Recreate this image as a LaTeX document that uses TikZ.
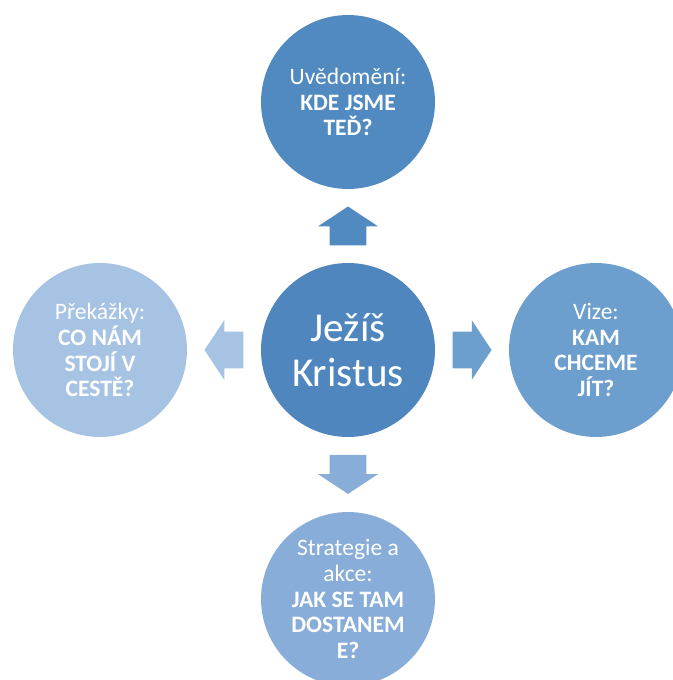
\documentclass[tikz,border=0pt]{standalone}
\usepackage{fontspec}
\setmainfont{Carlito}
\usetikzlibrary{shapes.arrows,calc}
\definecolor{awarenessblue}{RGB}{80,138,193}
\definecolor{centreblue}{RGB}{79,134,190}
\definecolor{visionblue}{RGB}{108,158,206}
\definecolor{strategyblue}{RGB}{136,173,217}
\definecolor{obstacleblue}{RGB}{166,195,228}
\begin{document}
\begin{tikzpicture}[x=0.02cm,y=0.02cm]
            \tikzstyle{every node}+=[inner sep=0pt]
            \tikzstyle{disc}=[circle, minimum size=3.48cm, text=white, align=center, font=\fontsize{13.4}{14.7}\selectfont]
            \tikzstyle{blockarrow}=[single arrow, anchor=tail, inner xsep=0pt, inner ysep=0.36cm, minimum height=0.78cm, single arrow head extend=0.23cm, single arrow tip angle=113]
            \useasboundingbox (0,0) rectangle (673,-680);
            \clip (0,0) rectangle (673,-680);
            \node [disc, fill=centreblue, font=\fontsize{23.4}{25.5}\selectfont] (jesus) at (348,-350) {Ježíš\\Kristus};
            \node [disc, fill=awarenessblue] (awareness) at (348,-102) {Uvědomění:\\\textbf{KDE JSME}\\\textbf{TEĎ?}};
            \node [disc, fill=visionblue] (vision) at (596,-350) {Vize:\\\textbf{KAM}\\\textbf{CHCEME}\\\textbf{JÍT?}};
            \node [disc, fill=strategyblue] (strategy) at (348,-599) {Strategie a\\akce:\\\textbf{JAK SE TAM}\\\textbf{DOSTANEM}\\\textbf{E?}};
            \node [disc, fill=obstacleblue] (obstacles) at (100,-350) {Překážky:\\\textbf{CO NÁM}\\\textbf{STOJÍ V}\\\textbf{CESTĚ?}};
            \node [blockarrow, fill=awarenessblue, rotate=90] (arrowup) at ($(jesus)!0.42!(awareness)$) {};
            \node [blockarrow, fill=visionblue] (arrowright) at ($(jesus)!0.42!(vision)$) {};
            \node [blockarrow, fill=strategyblue, rotate=-90] (arrowdown) at ($(jesus)!0.42!(strategy)$) {};
            \node [blockarrow, fill=obstacleblue, rotate=180] (arrowleft) at ($(jesus)!0.42!(obstacles)$) {};
\end{tikzpicture}
\end{document}
